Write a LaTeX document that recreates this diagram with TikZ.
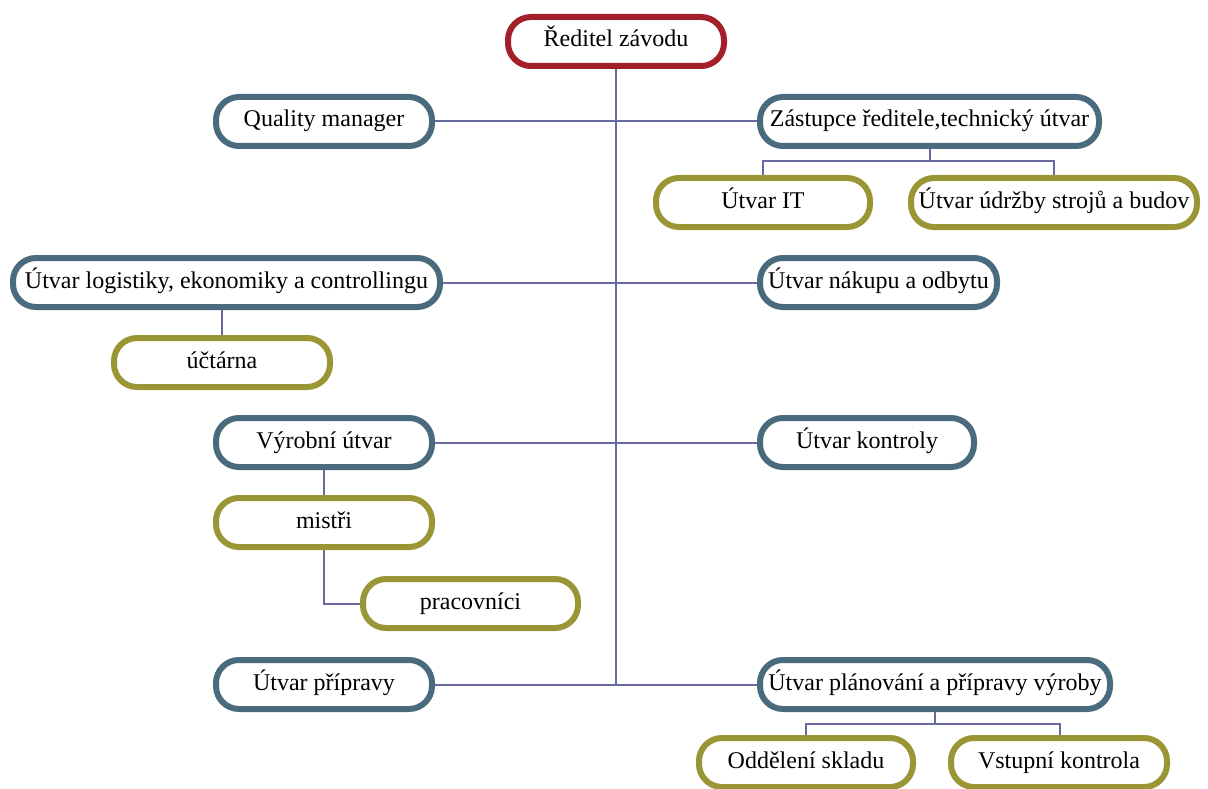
\documentclass[tikz,border=0pt]{standalone}
\usepackage{fontspec}
\setmainfont{Liberation Serif}
\definecolor{redB}{HTML}{A31F2A}
\definecolor{blueB}{HTML}{4A6B7E}
\definecolor{oliveB}{HTML}{9A9636}
\definecolor{lineC}{HTML}{6A6AA2}
\begin{document}
\begin{tikzpicture}[x=1pt,y=-1pt,
  box/.style={draw, line width=6pt, rounded corners=23pt, fill=white,
    minimum height=49pt, inner sep=0pt, text height=16pt, text depth=5pt,
    font=\fontsize{24}{27}\selectfont, text=black},
  topbox/.style={box, draw=redB},
  mainbox/.style={box, draw=blueB},
  subbox/.style={box, draw=oliveB},
  conn/.style={draw=lineC, line width=2pt}]
\useasboundingbox (0,0) rectangle (1208,789);
\coordinate (bot) at (616,684.5);
\node[topbox, minimum width=216pt] (dir) at (616,41.5) {Ředitel závodu};
\node[mainbox, minimum width=216pt] (qm) at (324,121.5) {Quality manager};
\node[mainbox, minimum width=339pt] (zas) at (929.5,121.5) {Zástupce ředitele,technický útvar};
\node[subbox, minimum width=214pt] (it) at (763,202.5) {Útvar IT};
\node[subbox, minimum width=286pt] (udr) at (1054,202.5) {Útvar údržby strojů a budov};
\node[mainbox, minimum width=427pt] (log) at (226.5,282.5) {Útvar logistiky, ekonomiky a controllingu};
\node[mainbox, minimum width=237pt] (nak) at (878.5,282.5) {Útvar nákupu a odbytu};
\node[subbox, minimum width=216pt] (uct) at (222,362.5) {účtárna};
\node[mainbox, minimum width=216pt] (vyr) at (324,442.5) {Výrobní útvar};
\node[mainbox, minimum width=214pt] (kon) at (867,442.5) {Útvar kontroly};
\node[subbox, minimum width=216pt] (mis) at (324,522.5) {mistři};
\node[subbox, minimum width=215pt] (pra) at (470.5,603.5) {pracovníci};
\node[mainbox, minimum width=216pt] (pri) at (324,684.5) {Útvar přípravy};
\node[mainbox, minimum width=350pt] (pla) at (935,684.5) {Útvar plánování a přípravy výroby};
\node[subbox, minimum width=214pt] (odd) at (806,762.5) {Oddělení skladu};
\node[subbox, minimum width=216pt] (vst) at (1059,762.5) {Vstupní kontrola};
% connectors
\draw[conn] (dir.south) -- (bot);
\draw[conn] (qm.east) -- (zas.west);
\draw[conn] (log.east) -- (nak.west);
\draw[conn] (vyr.east) -- (kon.west);
\draw[conn] (pri.east) -- (pla.west);
\draw[conn] (zas.south) -- ++(0,12) -| (it.north);
\draw[conn] (zas.south) ++(0,12) -| (udr.north);
\draw[conn] (log.south) ++(-4.5,0) -- (uct.north);
\draw[conn] (vyr.south) -- (mis.north);
\draw[conn] (mis.south) |- (pra.west);
\draw[conn] (pla.south) -- ++(0,12) -| (odd.north);
\draw[conn] (pla.south) ++(0,12) -| ([xshift=1pt]vst.north);
\end{tikzpicture}
\end{document}
